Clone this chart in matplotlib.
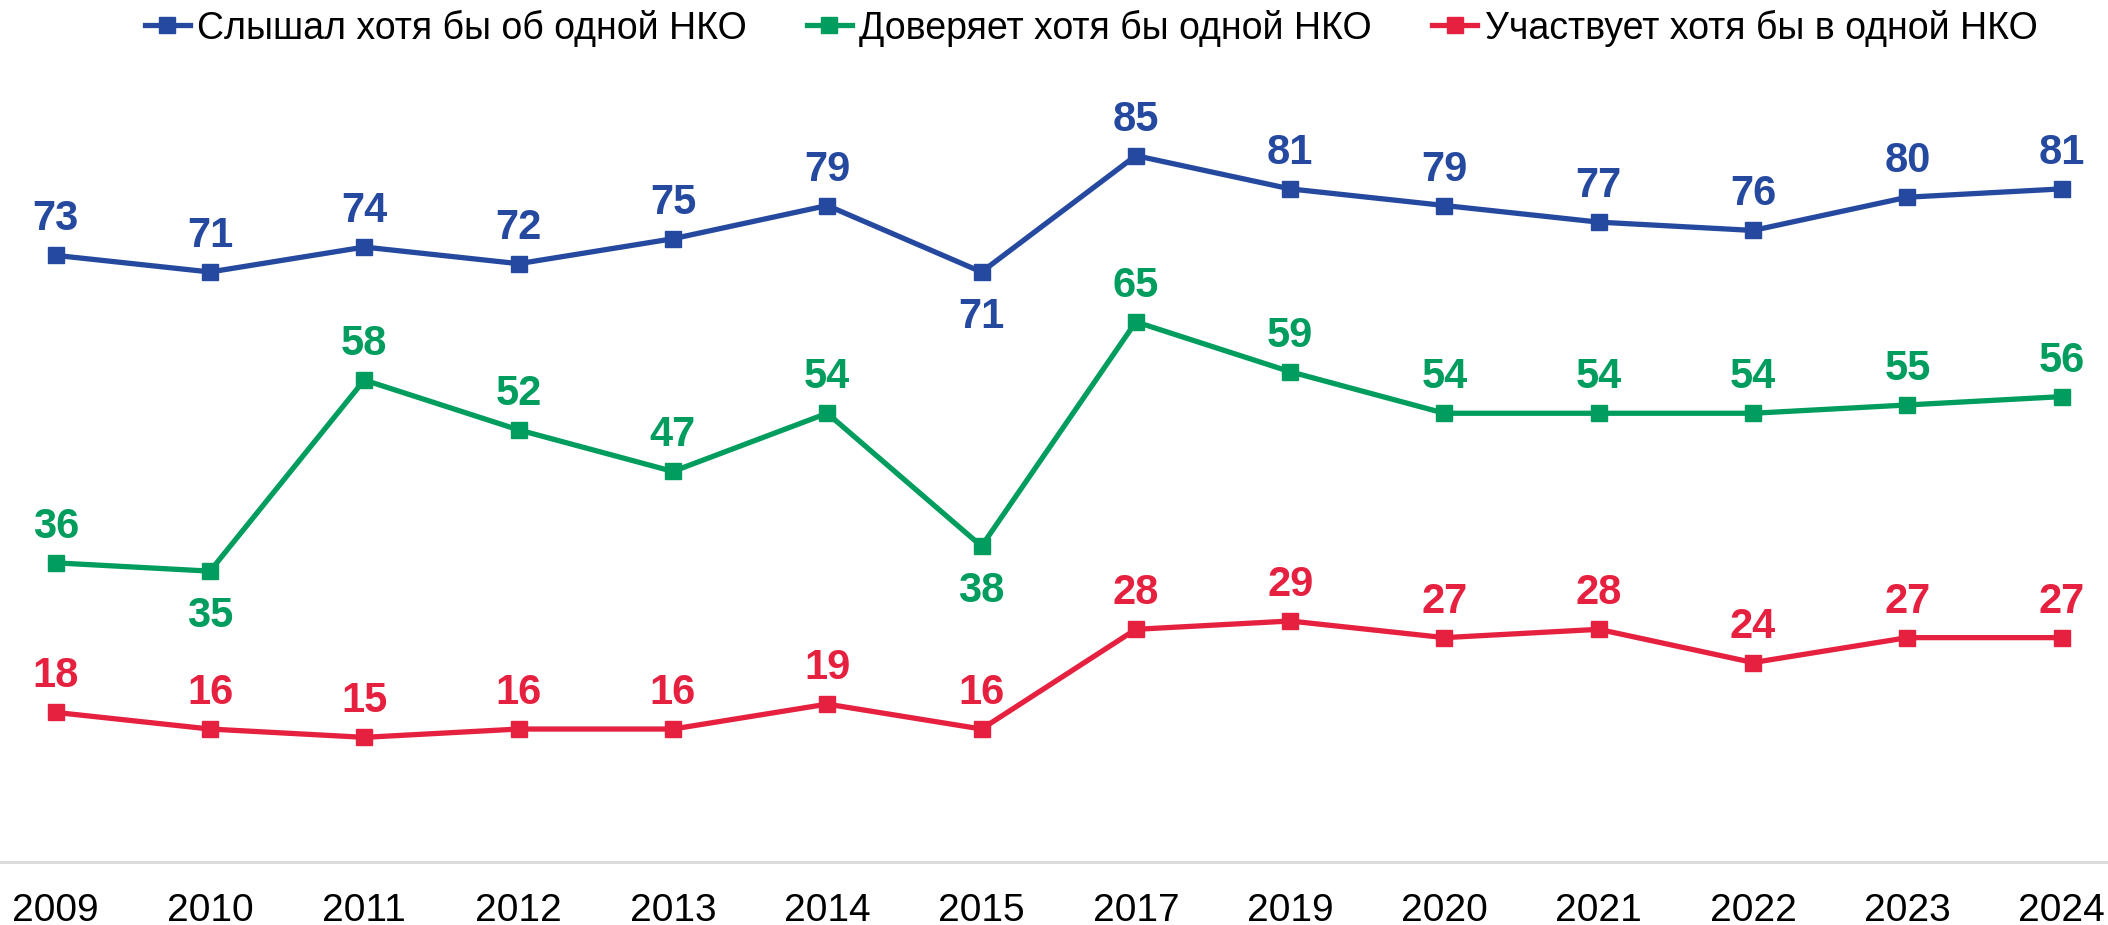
import matplotlib
matplotlib.use("Agg")
import matplotlib.pyplot as plt

years = ["2009", "2010", "2011", "2012", "2013", "2014", "2015",
         "2017", "2019", "2020", "2021", "2022", "2023", "2024"]
heard = [73, 71, 74, 72, 75, 79, 71, 85, 81, 79, 77, 76, 80, 81]
trust = [36, 35, 58, 52, 47, 54, 38, 65, 59, 54, 54, 54, 55, 56]
participate = [18, 16, 15, 16, 16, 19, 16, 28, 29, 27, 28, 24, 27, 27]

names = ["Слышал хотя бы об одной НКО",
         "Доверяет хотя бы одной НКО",
         "Участвует хотя бы в одной НКО"]
colors = ["#2649A0", "#009D5F", "#E6203F"]

# label placement: +1 above, -1 below
heard_pos = [1, 1, 1, 1, 1, 1, -1, 1, 1, 1, 1, 1, 1, 1]
trust_pos = [1, -1, 1, 1, 1, 1, -1, 1, 1, 1, 1, 1, 1, 1]
part_pos = [1] * 14

plt.rcParams['font.family'] = ['Liberation Sans', 'DejaVu Sans']

fig = plt.figure(figsize=(21.08, 9.25), dpi=100)
ax = fig.add_axes([0, 1 - 862 / 925, 1, 831 / 925])

x = list(range(len(years)))
series = [(heard, heard_pos), (trust, trust_pos), (participate, part_pos)]
for (vals, pos), name, c in zip(series, names, colors):
    ax.plot(x, vals, color=c, lw=3.8, marker='s', markersize=11,
            label=name, solid_joinstyle='miter')
    for xi, v, p in zip(x, vals, pos):
        if p > 0:
            ax.annotate(str(v), (xi, v), xytext=(0, 18), textcoords='offset points',
                        ha='center', va='baseline', fontsize=30, fontweight='bold', color=c)
        else:
            ax.annotate(str(v), (xi, v), xytext=(0, -40), textcoords='offset points',
                        ha='center', va='baseline', fontsize=30, fontweight='bold', color=c)

ax.set_xlim(-0.361, 13.30)
ax.set_ylim(0, 100)
ax.set_xticks(x)
ax.set_xticklabels(years, fontsize=28)
ax.tick_params(axis='x', length=0, pad=22)
ax.set_yticks([])
for s in ['top', 'right', 'left']:
    ax.spines[s].set_visible(False)
ax.spines['bottom'].set_color('#D9D9D9')
ax.spines['bottom'].set_linewidth(2)

fig.legend(loc='center', bbox_to_anchor=(1091 / 2108, 1 - 28 / 925), ncol=3,
           frameon=False, fontsize=27, handlelength=1.2, handletextpad=0.2,
           columnspacing=1.6, borderaxespad=0, borderpad=0)

fig.savefig("out.png", dpi=100)
